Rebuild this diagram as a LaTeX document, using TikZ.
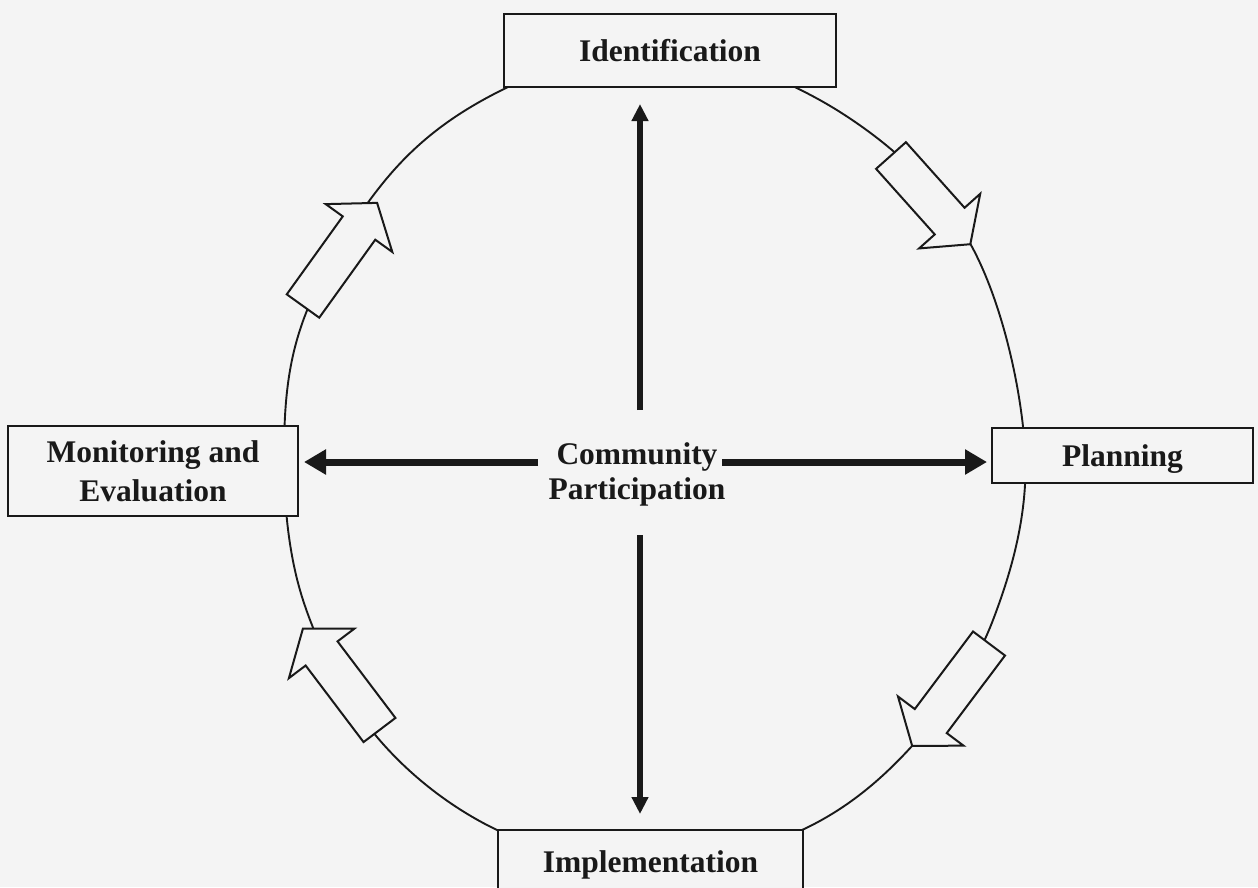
\documentclass[tikz,border=0pt]{standalone}
\usepackage{fontspec}
\setmainfont{Liberation Serif}
\usetikzlibrary{arrows.meta}
\definecolor{paper}{gray}{0.955}
\definecolor{ink}{gray}{0.1}
% hollow block arrow: tail centre x, y (image coords), angle, length
\newcommand{\hollowarrow}[4]{%
  \begin{scope}[shift={(#1,#2)}, rotate=#3]
    \draw[hollow] (0,-20) -- ({#4-31},-20) -- ({#4-31},-41) -- (#4,0)
      -- ({#4-31},41) -- ({#4-31},20) -- (0,20) -- cycle;
  \end{scope}}
\tikzset{
  hollow/.style={draw=ink, fill=paper, line width=2pt, line join=miter},
  box/.style={draw=ink, fill=paper, line width=2pt, inner sep=0pt,
    font=\bfseries\fontsize{31.5}{37}\selectfont, text=ink},
  hbig/.style={draw=ink, line width=7pt, -{Triangle[length=22pt,width=24pt]}},
  vbig/.style={draw=ink, line width=5.5pt, -{Triangle[length=17pt,width=16pt]}},
  lbl/.style={font=\bfseries\fontsize{31.5}{35}\selectfont, text=ink, align=center, inner sep=0pt}
}
\begin{document}
\begin{tikzpicture}[x=1pt,y=-1pt]
\clip (0,0) rectangle (1258,887);
\fill[paper] (0,0) rectangle (1258,887);
% cycle
\draw[ink, line width=1.9pt] plot[smooth cycle, tension=0.6] coordinates {
  (654,44) (840,112) (971,245) (1025,450) (993,620) (912,746) (802,830)
  (650,868) (497,830) (377,737) (303,600) (284,450) (306,313) (394,170) (508,87)};
% hollow arrows on the cycle
\hollowarrow{891}{155.5}{-48.2}{119}
\hollowarrow{989}{643.5}{-126.9}{128}
\hollowarrow{379.5}{730}{127.1}{127}
\hollowarrow{303}{306}{54.3}{127}
% stage boxes
\node[box, minimum width=332pt, minimum height=73pt, text depth=0pt] (id) at (670,50.5) {Identification};
\node[box, minimum width=261pt, minimum height=55pt, text depth=0pt] (plan) at (1122.5,455.5) {Planning};
\node[box, minimum width=305pt, minimum height=64pt, text depth=0pt] (imp) at (650.5,862) {Implementation};
\node[box, minimum width=290pt, minimum height=90pt, align=center,
  font=\bfseries\fontsize{31.5}{39}\selectfont] (mon) at (153,471) {Monitoring and\\Evaluation};
% centre
\node[lbl] (cp) at (637,474) {Community\\Participation};
\coordinate (uS) at (640,410);
\coordinate (dS) at (640,535);
\coordinate (lS) at (538,462);
\coordinate (rS) at (722,462);
\draw[vbig, shorten >=16pt] (uS) -- (uS |- id.south);
\draw[vbig, shorten >=15pt] (dS) -- (dS |- imp.north);
\draw[hbig, shorten >=5pt] (lS) -- (lS -| mon.east);
\draw[hbig, shorten >=4pt] (rS) -- (rS -| plan.west);
\end{tikzpicture}
\end{document}
